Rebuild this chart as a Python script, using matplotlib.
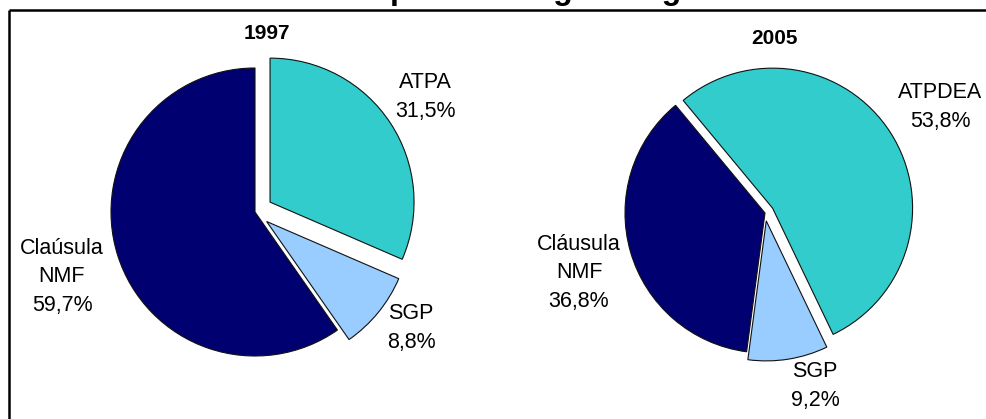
import matplotlib
matplotlib.use("Agg")
import matplotlib.pyplot as plt

# ---- data ----
title = "Estructura del Valor Importado según Regímenes Arancelarios"
years = ["1997", "2005"]
cats_1997 = ["ATPA", "SGP", "Claúsula\nNMF"]
vals_1997 = [31.5, 8.8, 59.7]
cats_2005 = ["ATPDEA", "SGP", "Cláusula\nNMF"]
vals_2005 = [53.8, 9.2, 36.8]
colors = ["#33CCCC", "#99CCFF", "#000070"]

W, H = 987, 419
fig = plt.figure(figsize=(W / 100, H / 100), dpi=100)
ax = fig.add_axes([0, 0, 1, 1])

FONT = "Liberation Sans"

def py(y):
    return H - y

def fmt(v):
    return f"{v:.1f}%".replace(".", ",")

wedge_kw = dict(edgecolor="#111111", linewidth=0.8)

# 1997 pie (explode in pixel units since radius is in pixels)
ax.pie(vals_1997, colors=colors, startangle=90, counterclock=False,
       center=(255, py(212)), radius=144, explode=[18, 15, 0],
       wedgeprops=wedge_kw, frame=True)
# 2005 pie
ax.pie(vals_2005, colors=colors, startangle=129.7, counterclock=False,
       center=(765, py(213)), radius=140, explode=[9, 8, 0],
       wedgeprops=wedge_kw, frame=True)
ax.set_xlim(0, W)
ax.set_ylim(0, H)
ax.set_aspect("equal")
ax.axis("off")

# frame (clipped at right and bottom)
ax.plot([9, 9], [py(10), -5], color="black", lw=1.8, solid_capstyle="butt")
ax.plot([9, W + 5], [py(10), py(10)], color="black", lw=1.8, solid_capstyle="butt")

# title, clipped at the top edge as in the reference
fig.text(42 / W, 1 + 0.5 / H, title, ha="left", va="baseline", fontsize=23,
         fontweight="bold", family=FONT, color="black")

# year titles
ax.text(267, py(33), years[0], ha="center", va="center", fontsize=15,
        fontweight="bold", family=FONT)
ax.text(774, py(38), years[1], ha="center", va="center", fontsize=15,
        fontweight="bold", family=FONT)

lab_kw = dict(ha="center", va="center", fontsize=15.5, family=FONT, linespacing=1.45)

# 1997 labels
ax.text(425, py(97), f"{cats_1997[0]}\n{fmt(vals_1997[0])}", **lab_kw)
ax.text(411, py(328), f"{cats_1997[1]}\n{fmt(vals_1997[1])}", **lab_kw)
ax.text(62, py(277), f"{cats_1997[2]}\n{fmt(vals_1997[2])}", **lab_kw)

# 2005 labels
ax.text(940, py(107), f"{cats_2005[0]}\n{fmt(vals_2005[0])}", **lab_kw)
ax.text(815, py(386), f"{cats_2005[1]}\n{fmt(vals_2005[1])}", **lab_kw)
ax.text(579, py(273), f"{cats_2005[2]}\n{fmt(vals_2005[2])}", **lab_kw)

fig.savefig("out.png", dpi=100)
